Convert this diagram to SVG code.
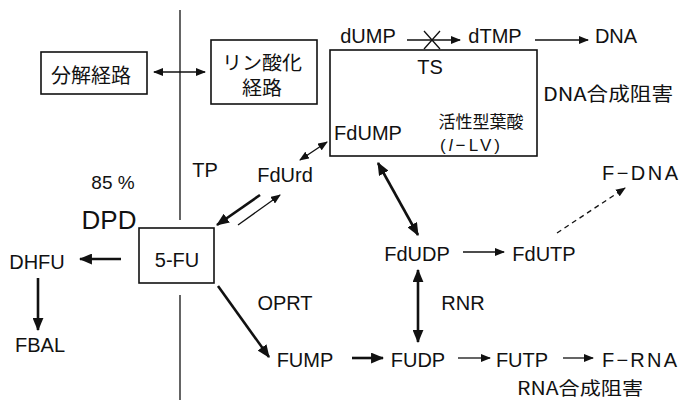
<svg xmlns="http://www.w3.org/2000/svg" width="679" height="400" viewBox="0 0 679 400">
<style>
.t{font-family:"Liberation Sans","Noto Sans CJK JP",sans-serif;font-size:20px;fill:#111;text-anchor:middle}
.j{font-family:"Noto Sans CJK JP","Liberation Sans",sans-serif;fill:#111;text-anchor:middle}
.box{fill:#fff;stroke:#111;stroke-width:1.6}
.thin{stroke:#111;stroke-width:1.3;fill:none}
.thick{stroke:#111;stroke-width:2.6;fill:none}
</style>
<defs>
<marker id="ah" viewBox="0 0 10 8" refX="9" refY="4" markerWidth="10" markerHeight="8" markerUnits="userSpaceOnUse" orient="auto-start-reverse"><path d="M0,0 L10,4 L0,8 Z" fill="#111"/></marker>
<marker id="ahb" viewBox="0 0 12 10" refX="11" refY="5" markerWidth="13" markerHeight="11" markerUnits="userSpaceOnUse" orient="auto-start-reverse"><path d="M0,0 L12,5 L0,10 Z" fill="#111"/></marker>
</defs>
<rect width="679" height="400" fill="#fff"/>
<g id="divider">
<line x1="180" y1="10" x2="180" y2="220" class="thin"/>
<line x1="180" y1="295" x2="180" y2="400" class="thin"/>
</g>
<g id="connectors">
<line x1="154" y1="72" x2="205" y2="72" class="thin" marker-start="url(#ah)" marker-end="url(#ah)"/>
<line x1="407" y1="40" x2="460" y2="40" class="thin" marker-end="url(#ah)"/>
<path d="M424,31 L440,49 M440,31 L424,49" class="thin"/>
<line x1="535" y1="40" x2="588" y2="40" class="thin" marker-end="url(#ah)"/>
<line x1="413" y1="77" x2="382" y2="103" class="thin"/>
<line x1="451" y1="77" x2="483" y2="103" class="thin"/>
<line x1="300" y1="160" x2="327" y2="142" class="thin" marker-start="url(#ah)" marker-end="url(#ah)"/>
<line x1="260" y1="195" x2="217" y2="225" class="thick" marker-end="url(#ahb)"/>
<line x1="238" y1="225" x2="280" y2="195" class="thin" marker-end="url(#ah)"/>
<line x1="121" y1="259" x2="80" y2="259" class="thick" marker-end="url(#ahb)"/>
<line x1="38" y1="278" x2="38" y2="330" class="thick" marker-end="url(#ahb)"/>
<line x1="218" y1="286" x2="269" y2="357" class="thick" marker-end="url(#ahb)"/>
<line x1="378" y1="163" x2="418" y2="235" class="thick" marker-start="url(#ahb)" marker-end="url(#ahb)"/>
<line x1="418" y1="270" x2="418" y2="342" class="thick" marker-start="url(#ahb)" marker-end="url(#ahb)"/>
<line x1="463" y1="252" x2="504" y2="252" class="thin" marker-end="url(#ah)"/>
<line x1="557" y1="233" x2="625" y2="188" class="thin" stroke-dasharray="5,4" marker-end="url(#ah)"/>
<line x1="352" y1="358" x2="383" y2="358" class="thick" marker-end="url(#ahb)"/>
<line x1="458" y1="358" x2="490" y2="358" class="thin" marker-end="url(#ah)"/>
<line x1="563" y1="358" x2="593" y2="358" class="thin" marker-end="url(#ah)"/>
</g>
<g id="bunkai"><rect x="41" y="52" width="106" height="42" class="box"/><text x="91" y="83" class="j" style="font-size:20px">分解経路</text></g>
<g id="rinsanka"><rect x="211" y="40" width="106" height="64" class="box"/><text x="262" y="70" class="j" style="font-size:19px" textLength="80" lengthAdjust="spacingAndGlyphs">リン酸化</text><text x="262" y="95" class="j" style="font-size:19px" textLength="40" lengthAdjust="spacingAndGlyphs">経路</text></g>
<g id="ts-box"><rect x="330" y="50" width="207" height="106" class="box"/>
<text x="430" y="74" class="t">TS</text>
<text x="368" y="140" class="t">FdUMP</text>
<text x="481" y="128" class="j" style="font-size:17px">活性型葉酸</text>
<text x="470" y="151" class="t" style="font-size:17px" textLength="60" lengthAdjust="spacing">(<tspan font-style="italic">l</tspan>−LV)</text>
</g>
<g id="dump"><text x="368" y="43" class="t">dUMP</text></g>
<g id="dtmp"><text x="495" y="43" class="t">dTMP</text></g>
<g id="dna"><text x="616" y="43" class="t">DNA</text></g>
<g id="dna-inhib"><text x="608" y="101" class="j" style="font-size:19px" textLength="130" lengthAdjust="spacingAndGlyphs">DNA合成阻害</text></g>
<g id="fdna"><text x="602" y="180" class="t" style="text-anchor:start" textLength="76" lengthAdjust="spacing">F−DNA</text></g>
<g id="tp"><text x="205" y="177" class="t">TP</text></g>
<g id="fdurd"><text x="285" y="182" class="t">FdUrd</text></g>
<g id="pct"><text x="113" y="189" class="t" style="font-size:19px">85 %</text></g>
<g id="dpd"><text x="109" y="229" class="t" style="font-size:26px">DPD</text></g>
<g id="fu"><rect x="139" y="228" width="75" height="55" class="box"/><text x="177" y="267" class="t">5-FU</text></g>
<g id="dhfu"><text x="37" y="269" class="t">DHFU</text></g>
<g id="fbal"><text x="40" y="352" class="t">FBAL</text></g>
<g id="oprt"><text x="285" y="310" class="t">OPRT</text></g>
<g id="fump"><text x="305" y="367" class="t">FUMP</text></g>
<g id="fudp"><text x="418" y="367" class="t">FUDP</text></g>
<g id="futp"><text x="522" y="367" class="t">FUTP</text></g>
<g id="frna"><text x="602" y="367" class="t" style="text-anchor:start" textLength="75" lengthAdjust="spacing">F−RNA</text></g>
<g id="fdudp"><text x="417" y="261" class="t">FdUDP</text></g>
<g id="fdutp"><text x="544" y="261" class="t">FdUTP</text></g>
<g id="rnr"><text x="463" y="310" class="t">RNR</text></g>
<g id="rna-inhib"><text x="580" y="395" class="j" style="font-size:18px" textLength="126" lengthAdjust="spacingAndGlyphs">RNA合成阻害</text></g>
</svg>
